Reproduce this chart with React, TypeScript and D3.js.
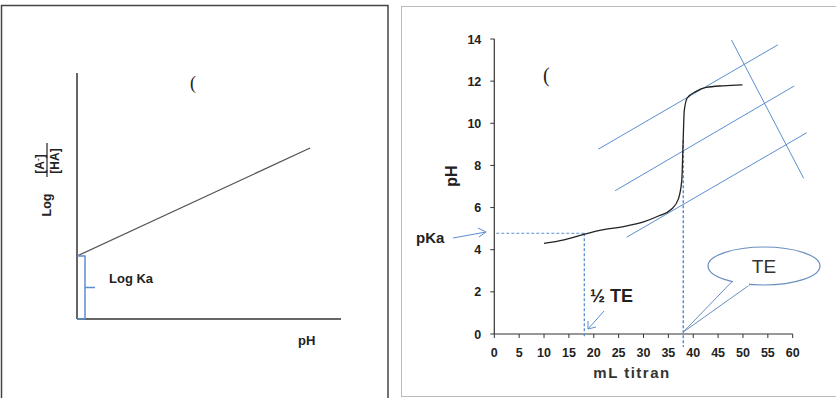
import * as d3 from "d3";

// left panel: Henderson-Hasselbalch line (arbitrary units)
const hhLine = [
  { ph: 0, ratio: 2.56 },
  { ph: 8.83, ratio: 6.95 },
];
const logKa = 2.56;

// right panel: titration curve
const xTicks = [0, 5, 10, 15, 20, 25, 30, 35, 40, 45, 50, 55, 60];
const yTicks = [0, 2, 4, 6, 8, 10, 12, 14];
const curve = [
  { ml: 10, ph: 4.3 },
  { ml: 14, ph: 4.47 },
  { ml: 18, ph: 4.73 },
  { ml: 22, ph: 4.95 },
  { ml: 26, ph: 5.1 },
  { ml: 30, ph: 5.32 },
  { ml: 33, ph: 5.6 },
  { ml: 35.6, ph: 5.92 },
  { ml: 37, ph: 6.4 },
  { ml: 37.7, ph: 7.3 },
  { ml: 37.95, ph: 9.0 },
  { ml: 38.2, ph: 10.6 },
  { ml: 38.8, ph: 11.2 },
  { ml: 40.5, ph: 11.5 },
  { ml: 42.6, ph: 11.7 },
  { ml: 46, ph: 11.78 },
  { ml: 49.9, ph: 11.82 },
];
const tangents = [
  [{ ml: 20.9, ph: 8.77 }, { ml: 57.0, ph: 13.72 }],
  [{ ml: 24.3, ph: 6.8 }, { ml: 60.3, ph: 11.77 }],
  [{ ml: 26.6, ph: 4.59 }, { ml: 62.8, ph: 9.55 }],
  [{ ml: 47.7, ph: 13.95 }, { ml: 62.2, ph: 7.39 }],
];
const pKa = 4.78;
const halfTE = 18.1;
const TE = 38.0;

const blue = "#5b8fd0";

export default function App() {
  // left panel scales
  const lx = d3.scaleLinear().domain([0, 10]).range([77, 341]);
  const ly = d3.scaleLinear().domain([0, 10]).range([319, 73]);
  const lLine = d3
    .line<{ ph: number; ratio: number }>()
    .x((d) => lx(d.ph))
    .y((d) => ly(d.ratio));

  // right panel scales
  const x = d3.scaleLinear().domain([0, 60]).range([494.3, 792.7]);
  const y = d3.scaleLinear().domain([0, 14]).range([334, 39]);
  const curveLine = d3
    .line<{ ml: number; ph: number }>()
    .x((d) => x(d.ml))
    .y((d) => y(d.ph))
    .curve(d3.curveMonotoneX);
  const straight = d3
    .line<{ ml: number; ph: number }>()
    .x((d) => x(d.ml))
    .y((d) => y(d.ph));

  const braceX = lx(0) + 8;
  const braceTop = ly(logKa);
  const braceBot = ly(0);
  const braceMid = (braceTop + braceBot) / 2;

  const font = "Liberation Sans, Arial, sans-serif";

  // TE speech bubble
  const ex = 764, ey = 266, erx = 56, ery = 19;
  const tip = { X: x(TE), Y: y(0) - 2 };

  return (
    <svg
      width={836}
      height={398}
      style={{ position: "absolute", left: 0, top: 0, background: "#fff" }}
      fontFamily={font}
    >
      {/* panel frames */}
      <path d="M1.5,398 V5.5 H388 V398" fill="none" stroke="#444" strokeWidth={1.5} />
      <rect x={401.5} y={6.5} width={440} height={390} fill="none" stroke="#bbb" strokeWidth={1} />

      {/* ---------- left panel ---------- */}
      <line x1={lx(0)} x2={lx(0)} y1={ly(10)} y2={ly(0)} stroke="#333" strokeWidth={1.5} />
      <line x1={lx(0)} x2={lx(10)} y1={ly(0)} y2={ly(0)} stroke="#333" strokeWidth={1.5} />
      <path d={lLine(hhLine) ?? ""} fill="none" stroke="#555" strokeWidth={1.3} />
      {/* brace */}
      <path
        d={`M${lx(0)},${braceTop} H${braceX} V${braceBot} M${braceX},${braceMid} H${braceX + 10} M${lx(0)},${braceBot} H${braceX}`}
        fill="none"
        stroke={blue}
        strokeWidth={1.5}
      />
      <text x={109} y={283} fontSize={13} fontWeight="bold" fill="#222">Log Ka</text>
      <text x={298} y={345} fontSize={13} fontWeight="bold" fill="#222">pH</text>
      <text x={190} y={89} fontSize={18} fill="#222" fontFamily="Liberation Serif, serif">(</text>
      <g transform="translate(47,174) rotate(-90)" fill="#222" fontWeight="bold">
        <text x={-31} y={4} fontSize={12.5} textAnchor="middle">Log</text>
        <line x1={-3} x2={31} y1={0} y2={0} stroke="#222" strokeWidth={1.2} />
        <text x={10} y={-3} fontSize={12} textAnchor="middle">[A<tspan dy={-4} fontSize={8}>-</tspan><tspan dy={4}>]</tspan></text>
        <text x={13} y={12} fontSize={12} textAnchor="middle">[HA]</text>
      </g>

      {/* ---------- right panel ---------- */}
      {/* axes */}
      <line x1={x(0)} x2={x(0)} y1={y(14)} y2={y(0)} stroke="#333" strokeWidth={1.2} />
      <line x1={x(0)} x2={x(60)} y1={y(0)} y2={y(0)} stroke="#333" strokeWidth={1.2} />
      {yTicks.map((t) => (
        <g key={"y" + t}>
          <line x1={x(0) - 4} x2={x(0)} y1={y(t)} y2={y(t)} stroke="#333" />
          <text x={x(0) - 13} y={y(t) + 4.5} textAnchor="end" fontSize={12.5} fontWeight="bold" fill="#222">{t}</text>
        </g>
      ))}
      {xTicks.map((t) => (
        <g key={"x" + t}>
          <line x1={x(t)} x2={x(t)} y1={y(0)} y2={y(0) + 4} stroke="#333" />
          <text x={x(t)} y={y(0) + 23} textAnchor="middle" fontSize={12.5} fontWeight="bold" fill="#222">{t}</text>
        </g>
      ))}
      <text x={632} y={378} textAnchor="middle" fontSize={15} fontWeight="bold" fill="#333" letterSpacing={1.5}>mL titran</text>
      <text transform="translate(457,176) rotate(-90)" textAnchor="middle" fontSize={16} fontWeight="bold" fill="#222">pH</text>
      <text x={543} y={82} fontSize={20} fill="#222" fontFamily="Liberation Serif, serif">(</text>

      {/* tangent construction lines */}
      {tangents.map((seg, i) => (
        <path key={"t" + i} d={straight(seg) ?? ""} stroke={blue} strokeWidth={1} fill="none" />
      ))}

      {/* dashed guides */}
      <line x1={x(0) + 2} x2={x(halfTE)} y1={y(pKa)} y2={y(pKa)} stroke={blue} strokeWidth={1} strokeDasharray="3,2" />
      <line x1={x(halfTE)} x2={x(halfTE)} y1={y(pKa)} y2={y(0) + 4} stroke={blue} strokeWidth={1.3} strokeDasharray="3,2" />
      <line x1={x(TE)} x2={x(TE)} y1={y(9.2)} y2={y(0) + 13} stroke={blue} strokeWidth={1.5} strokeDasharray="3,2" />

      {/* titration curve */}
      <path d={curveLine(curve) ?? ""} fill="none" stroke="#222" strokeWidth={1.3} />

      {/* pKa label + arrow */}
      <text x={416} y={243} fontSize={15} fontWeight="bold" fill="#222">pKa</text>
      <line x1={453} y1={238} x2={486} y2={232} stroke={blue} strokeWidth={1} />
      <path d="M478,228 L486,232 L479,237" fill="none" stroke={blue} strokeWidth={1} />

      {/* half TE label + arrow */}
      <text x={590} y={302} fontSize={18} fontWeight="bold" fill="#222">½ TE</text>
      <line x1={604} y1={311} x2={588} y2={329} stroke={blue} strokeWidth={1} />
      <path d="M588,321 L588,329 L596,327" fill="none" stroke={blue} strokeWidth={1} />

      {/* TE callout */}
      <path
        d={`M${ex - 32},${ey + ery * 0.82} L${tip.X},${tip.Y} L${ex - 14},${ey + ery * 0.98}`}
        fill="#fff"
        stroke="#6a8fbf"
        strokeWidth={1}
      />
      <ellipse cx={ex} cy={ey} rx={erx} ry={ery} fill="none" stroke="#6a8fbf" strokeWidth={1.2} />
      <path d={`M${ex - 31},${ey + ery * 0.83} L${ex - 15},${ey + ery * 0.97}`} stroke="#fff" strokeWidth={2.5} />
      <text x={ex} y={ey + 7} textAnchor="middle" fontSize={19} fill="#333">TE</text>
    </svg>
  );
}
